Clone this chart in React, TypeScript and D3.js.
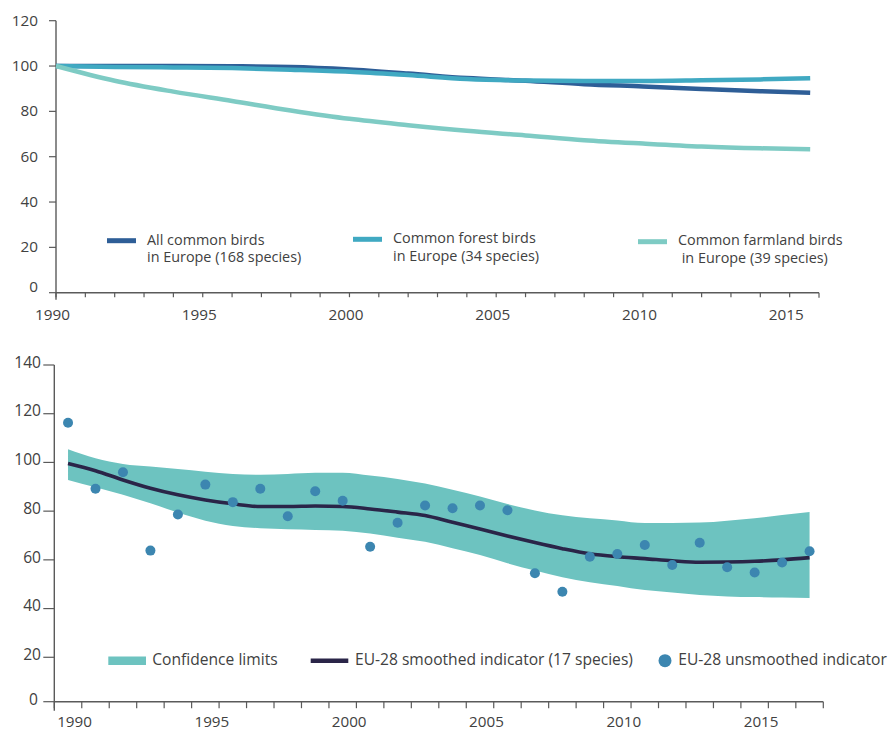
import React from "react";
import * as d3 from "d3";

// ---- Upper panel: common bird indices in Europe (1990 = 100) ----
const topYears = [1990, 1992, 1994, 1996, 1998, 2000, 2002, 2004, 2006, 2008, 2010, 2012, 2014, 2015.7];
const allCommon = [100, 100, 100, 99.9, 99.6, 98.5, 96.7, 94.7, 93.5, 92.0, 91.0, 89.9, 88.9, 88.2];
const forestBirds = [100, 99.6, 99.4, 99.1, 98.4, 97.5, 96.0, 94.3, 93.6, 93.4, 93.4, 93.7, 94.1, 94.6];
const farmlandBirds = [100, 93.5, 88.7, 84.6, 80.4, 76.7, 73.9, 71.4, 69.4, 67.3, 65.8, 64.5, 63.7, 63.3];
const topYTicks = [0, 20, 40, 60, 80, 100, 120];
const topXLabels = [1990, 1995, 2000, 2005, 2010, 2015];

const topSeries = [
  { name: ["All common birds", "in Europe (168 species)"], values: allCommon, color: "#2e5e97" },
  { name: ["Common forest birds", "in Europe (34 species)"], values: forestBirds, color: "#40a9c2" },
  { name: ["Common farmland birds", " in Europe (39 species)"], values: farmlandBirds, color: "#7ecbc4" },
];

// ---- Lower panel: EU-28 indicator (17 species) ----
const lowYears = d3.range(1990, 2018);
const unsmoothed = [
  116.3, 89.2, 96.0, 63.8, 78.6, 90.9, 83.7, 89.2, 77.9, 88.2, 84.3, 65.4, 75.2, 82.3,
  81.2, 82.3, 80.4, 54.5, 46.9, 61.3, 62.4, 66.1, 57.9, 67.0, 57.0, 54.8, 58.9, 63.5,
];
const smoothed = [
  99.6, 96.6, 92.8, 89.4, 86.7, 84.6, 83.0, 81.9, 81.9, 82.1, 81.9, 80.9, 79.6, 78.2,
  75.4, 72.7, 69.8, 67.1, 64.6, 62.5, 61.3, 60.5, 59.6, 59.0, 59.1, 59.4, 60.0, 60.9,
];
const upperLimit = [
  105.4, 101.7, 99.4, 98.3, 97.3, 96.2, 95.3, 94.9, 95.3, 95.8, 95.8, 94.6, 93.2, 91.3,
  88.8, 86.0, 82.9, 80.3, 78.3, 77.1, 76.2, 75.1, 75.1, 75.3, 76.1, 77.1, 78.4, 79.6,
];
const lowerLimit = [
  92.8, 89.8, 86.7, 83.2, 79.4, 76.1, 73.9, 73.0, 72.6, 72.3, 71.9, 70.8, 69.1, 67.4,
  64.8, 62.0, 58.6, 55.6, 52.9, 50.8, 49.3, 47.6, 46.6, 45.6, 45.0, 44.7, 44.5, 44.3,
];
const lowYTicks = [20, 40, 60, 80, 100, 120, 140];
const lowXLabels = [1990, 1995, 2000, 2005, 2010, 2015];

const FONT = "'Open Sans', 'Noto Sans', sans-serif";
const TEXT = "#414141";
const AXIS = "#5a5a5a";
const BAND = "#6dc3c0";
const SMOOTH = "#2a2548";
const DOT = "#3c86b0";

export default function App() {
  // Upper panel scales
  const xT = d3.scaleLinear().domain([1990, 2016]).range([56, 819]);
  const yT = d3.scaleLinear().domain([0, 120]).range([292.7, 20.7]);
  const lineT = (vals: number[]) =>
    d3
      .line<number>()
      .x((_, i) => xT(topYears[i]))
      .y((v) => yT(v))
      .curve(d3.curveMonotoneX)(vals) || "";

  // Lower panel scales
  const xB = d3.scaleLinear().domain([1989.5, 2017.5]).range([54.3, 823.3]);
  const yB = d3.scaleLinear().domain([0, 140]).range([706, 365]);
  const baseB = 701.7;
  const bandPath =
    d3
      .area<number>()
      .x((_, i) => xB(lowYears[i]))
      .y0((_, i) => yB(lowerLimit[i]))
      .y1((v) => yB(v))
      .curve(d3.curveMonotoneX)(upperLimit) || "";
  const smoothPath =
    d3
      .line<number>()
      .x((_, i) => xB(lowYears[i]))
      .y((v) => yB(v))
      .curve(d3.curveMonotoneX)(smoothed) || "";

  const topYearTicks = d3.range(1990, 2017);
  const lowYearTicks = d3.range(1989.5, 2018, 1);

  const legendTop = [
    { sx: 107, sy: 240.7, tx: 147, ty: [240.7, 258], tx2: 147 },
    { sx: 353, sy: 239.3, tx: 393, ty: [239.3, 256.7], tx2: 393 },
    { sx: 638, sy: 241.7, tx: 678, ty: [240.7, 259], tx2: 678 },
  ];

  return (
    <svg
      width={892}
      height={729}
      style={{ position: "absolute", left: 0, top: 0, background: "#fff" }}
      fontFamily={FONT}
    >
      {/* ===== Upper panel ===== */}
      <g>
        {/* y axis */}
        <line x1={xT(1990)} x2={xT(1990)} y1={yT(120)} y2={yT(0) + 7} stroke={AXIS} strokeWidth={1.4} />
        {topYTicks.map((t) => (
          <g key={"tyt" + t}>
            <line x1={xT(1990) - 7} x2={xT(1990)} y1={yT(t)} y2={yT(t)} stroke={AXIS} strokeWidth={1.2} />
            <text
              x={38}
              y={yT(t) + (t === 0 ? -5 : 1)}
              textAnchor="end"
              dominantBaseline="middle"
              fontSize={15.3}
              fill={TEXT}
            >
              {t}
            </text>
          </g>
        ))}
        {/* x axis */}
        <line x1={xT(1990)} x2={xT(2016)} y1={yT(0)} y2={yT(0)} stroke={AXIS} strokeWidth={1.4} />
        {topYearTicks.map((yr) => (
          <line
            key={"txt" + yr}
            x1={xT(yr)}
            x2={xT(yr)}
            y1={yT(0)}
            y2={yT(0) + (yr === 2016 ? 5 : 4.5)}
            stroke={AXIS}
            strokeWidth={1.2}
          />
        ))}
        {topXLabels.map((yr) => (
          <text
            key={"txl" + yr}
            x={xT(yr) - 3.5}
            y={316}
            textAnchor="middle"
            dominantBaseline="middle"
            fontSize={15.3}
            fill={TEXT}
          >
            {yr}
          </text>
        ))}
        {/* series */}
        {topSeries.map((s) => (
          <path key={s.name[0]} d={lineT(s.values)} fill="none" stroke={s.color} strokeWidth={4.5} />
        ))}
        {/* legend */}
        {topSeries.map((s, i) => {
          const L = legendTop[i];
          return (
            <g key={"lg" + i}>
              <line x1={L.sx} x2={L.sx + 29} y1={L.sy} y2={L.sy} stroke={s.color} strokeWidth={5} />
              <text x={L.tx} y={L.ty[0]} dominantBaseline="middle" fontSize={14.4} fill={TEXT}>
                {s.name[0]}
              </text>
              <text x={L.tx2} y={L.ty[1]} dominantBaseline="middle" fontSize={14.4} fill={TEXT} xmlSpace="preserve">
                {s.name[1]}
              </text>
            </g>
          );
        })}
      </g>

      {/* ===== Lower panel ===== */}
      <g>
        <path d={bandPath} fill={BAND} />
        <path d={smoothPath} fill="none" stroke={SMOOTH} strokeWidth={3.6} />
        {unsmoothed.map((v, i) => (
          <circle key={"dot" + i} cx={xB(lowYears[i])} cy={yB(v)} r={5} fill={DOT} />
        ))}

        {/* y axis */}
        <line x1={xB(1989.5)} x2={xB(1989.5)} y1={yB(140)} y2={baseB + 9} stroke={AXIS} strokeWidth={1.4} />
        {lowYTicks.map((t) => (
          <g key={"lyt" + t}>
            <line x1={xB(1989.5) - 11} x2={xB(1989.5)} y1={yB(t)} y2={yB(t)} stroke={AXIS} strokeWidth={1.2} />
            <text x={41} y={yB(t) - 1.5} textAnchor="end" dominantBaseline="middle" fontSize={15.6} fill={TEXT}>
              {t}
            </text>
          </g>
        ))}
        <line x1={xB(1989.5) - 11} x2={xB(1989.5)} y1={baseB} y2={baseB} stroke={AXIS} strokeWidth={1.2} />
        <text x={38} y={baseB - 1} textAnchor="end" dominantBaseline="middle" fontSize={15.6} fill={TEXT}>
          0
        </text>

        {/* x axis */}
        <line x1={xB(1989.5)} x2={xB(2017.5)} y1={baseB} y2={baseB} stroke={AXIS} strokeWidth={1.4} />
        {lowYearTicks.map((yr) => (
          <line
            key={"lxt" + yr}
            x1={xB(yr)}
            x2={xB(yr)}
            y1={baseB}
            y2={baseB + 6.5}
            stroke={AXIS}
            strokeWidth={1.2}
          />
        ))}
        {lowXLabels.map((yr) => (
          <text
            key={"lxl" + yr}
            x={xB(yr) + 6.5}
            y={726.5}
            textAnchor="middle"
            fontSize={15.2}
            fill={TEXT}
          >
            {yr}
          </text>
        ))}

        {/* legend */}
        <rect x={108.3} y={656.5} width={37.7} height={8.5} fill={BAND} />
        <text x={152.3} y={660.7} dominantBaseline="middle" fontSize={15.6} fill={TEXT}>
          Confidence limits
        </text>
        <line x1={310.7} x2={348.3} y1={660.7} y2={660.7} stroke={SMOOTH} strokeWidth={4.5} />
        <text x={355} y={660.7} dominantBaseline="middle" fontSize={15.6} fill={TEXT}>
          EU-28 smoothed indicator (17 species)
        </text>
        <circle cx={665} cy={660.7} r={6.5} fill={DOT} />
        <text x={678.3} y={660.7} dominantBaseline="middle" fontSize={15.6} fill={TEXT}>
          EU-28 unsmoothed indicator
        </text>
      </g>
    </svg>
  );
}
